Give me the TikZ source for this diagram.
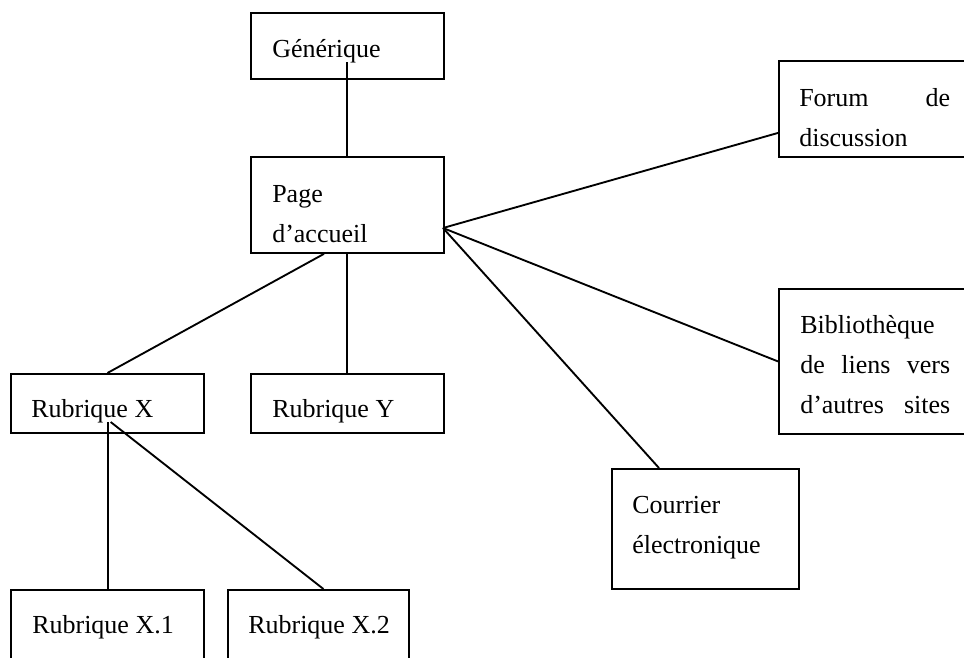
\documentclass[tikz,border=0pt]{standalone}
\usepackage{fontspec}
\setmainfont{Liberation Serif}
\newcommand{\lblfont}{\fontsize{19.5}{30}\selectfont}
\newcommand{\lblspace}{\spaceskip=0.25em plus 0.2em minus 0.05em\relax}
\begin{document}
\begin{tikzpicture}[
  x=0.75pt, y=-0.75pt,
  box/.style={rectangle, draw, line width=1.4pt, inner sep=0pt, anchor=north west},
  lbl/.style={inner sep=0pt, anchor=base west, text width=114pt,
    font=\lblfont, execute at begin node=\lblspace},
  link/.style={line width=1.4pt}
]
\useasboundingbox (0,0) rectangle (964,657);
\clip (0,0) rectangle (964,657);

% boxes
\node[box, minimum width=144.75pt, minimum height=49.5pt] (gen) at (250,12) {};
\node[box, minimum width=144.75pt, minimum height=72pt] (acc) at (250,156) {};
\node[box, minimum width=159pt, minimum height=72pt] (forum) at (778,60) {};
\node[box, minimum width=159pt, minimum height=108.75pt] (biblio) at (778,288) {};
\node[box, minimum width=140.25pt, minimum height=90pt] (mail) at (611,468) {};
\node[box, minimum width=144.75pt, minimum height=44.25pt] (rubx) at (10,373) {};
\node[box, minimum width=144.75pt, minimum height=44.25pt] (ruby) at (250,373) {};
\node[box, minimum width=144.75pt, minimum height=90pt] (rubxa) at (10,589) {};
\node[box, minimum width=135.75pt, minimum height=90pt] (rubxb) at (227,589) {};

% texts
\node[lbl] (gentext) at (272,57) {Générique};
\node[lbl] (acctext) at (272,202) {Page\\d'accueil};
\node[lbl] (forumtext) at (799,106) {\makebox[113.25pt][l]{Forum\hfill de}\\discussion};
\node[lbl] (bibliotext) at (800,333) {Bibliothèque\\\makebox[112.5pt][l]{de\hfill liens\hfill vers}\\\makebox[112.5pt][l]{d'autres\hfill sites}};
\node[lbl] (mailtext) at (632,513) {Courrier\\électronique};
\node[lbl] (rubxtext) at (31,417) {Rubrique X};
\node[lbl] (rubytext) at (272,417) {Rubrique Y};
\node[lbl] (rubxatext) at (32,633) {Rubrique X.1};
\node[lbl] (rubxbtext) at (248,633) {Rubrique X.2};

% links
\coordinate (genin) at (347,62);
\coordinate (hub) at (443,228);
\coordinate (rubxin) at (108,422);
\draw[link] (genin) -- (genin |- acc.north);
\draw[link] (hub) -- ([yshift=-18pt]forum.west);
\draw[link] (hub) -- (biblio.west);
\draw[link] (hub) -- ([xshift=36pt]mail.north west);
\draw[link] ([xshift=-17.6pt]acc.south) -- (rubx.north);
\draw[link] (genin |- acc.south) -- (genin |- ruby.north);
\draw[link] (rubxin) -- (rubxin |- rubxa.north);
\draw[link] ([xshift=2pt]rubxin) -- ([xshift=3.75pt]rubxb.north);
\end{tikzpicture}
\end{document}
